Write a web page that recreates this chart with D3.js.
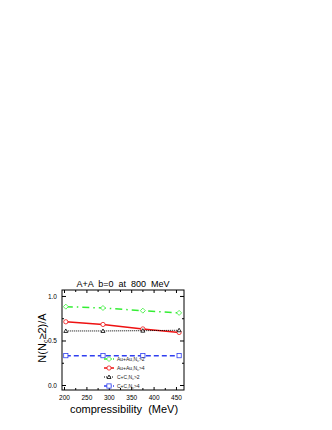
<!DOCTYPE html>
<html><head><meta charset="utf-8">
<script src="https://cdn.jsdelivr.net/npm/d3@7"></script>
<style>body{margin:0;background:#fff}svg{display:block}text{font-family:"Liberation Sans",Arial,sans-serif}</style>
</head><body>
<script>
const compress = [204, 287, 376, 457];
const auau2 = [0.88, 0.865, 0.835, 0.81];
const auau4 = [0.71, 0.68, 0.63, 0.59];
const cc2 = [0.607, 0.607, 0.61, 0.615];
const cc4 = [0.33, 0.33, 0.33, 0.33];
const seriesNames = ["Au+Au,N", "Au+Au,N", "C+C,N", "C+C,N"];
const seriesThr = [">2", ">4", ">2", ">4"];
const xTicks = [200, 250, 300, 350, 400, 450];
const yTicks = [0.0, 0.5, 1.0];

const W = 332, H = 430;
const svg = d3.select("body").append("svg").attr("width", W).attr("height", H);
const L = 62, R = 184, T = 290, B = 390;
const x = d3.scaleLinear().domain([195.5, 467.9]).range([L, R]);
const y = d3.scaleLinear().domain([-0.056, 1.067]).range([B, T]);

const series = [
  {v: auau2, color: "#33ee33", dash: "7,4,1.5,4", marker: "diamond"},
  {v: auau4, color: "#ee1111", dash: null, marker: "circle"},
  {v: cc2, color: "#000000", dash: "1,1", marker: "triangle"},
  {v: cc4, color: "#2f3ff0", dash: "5,3", marker: "square"}
];

svg.append("rect").attr("x", L).attr("y", T).attr("width", R - L).attr("height", B - T)
  .attr("fill", "none").attr("stroke", "#000").attr("stroke-width", 1);

const gb = svg.append("g").attr("transform", `translate(0,${B})`)
  .call(d3.axisBottom(x).tickValues(xTicks).tickSize(-3).tickPadding(5).tickFormat(d3.format("d")));
const gt = svg.append("g").attr("transform", `translate(0,${T})`)
  .call(d3.axisTop(x).tickValues(xTicks).tickSize(-3).tickFormat(""));
const gl = svg.append("g").attr("transform", `translate(${L},0)`)
  .call(d3.axisLeft(y).tickValues(yTicks).tickSize(-4).tickPadding(5).tickFormat(d3.format(".1f")));
const gr = svg.append("g").attr("transform", `translate(${R},0)`)
  .call(d3.axisRight(y).tickValues(yTicks).tickSize(-4).tickFormat(""));
const gml = svg.append("g").attr("transform", `translate(${L},0)`)
  .call(d3.axisLeft(y).tickValues([0.25, 0.75]).tickSize(-2).tickFormat(""));
const gmr = svg.append("g").attr("transform", `translate(${R},0)`)
  .call(d3.axisRight(y).tickValues([0.25, 0.75]).tickSize(-2).tickFormat(""));
const gmt = svg.append("g").attr("transform", `translate(0,${T})`)
  .call(d3.axisTop(x).tickValues([225, 275, 325, 375, 425]).tickSize(-2).tickFormat(""));
const gmb = svg.append("g").attr("transform", `translate(0,${B})`)
  .call(d3.axisBottom(x).tickValues([225, 275, 325, 375, 425]).tickSize(-2).tickFormat(""));
[gb, gt, gl, gr, gml, gmr, gmt, gmb].forEach(g => {
  g.select(".domain").remove();
  g.selectAll("text").attr("font-size", 6.5).attr("fill", "#000");
  g.selectAll("line").attr("stroke", "#000");
});

const line = d3.line().x((d, i) => x(compress[i])).y(d => y(d));
function drawMarker(g, type, cx, cy, s) {
  if (type === "circle") g.append("circle").attr("cx", cx).attr("cy", cy).attr("r", s * 0.85);
  else if (type === "square") g.append("rect").attr("x", cx - s * 0.85).attr("y", cy - s * 0.85).attr("width", s * 1.7).attr("height", s * 1.7);
  else if (type === "diamond") g.append("path").attr("d", `M${cx},${cy - s}L${cx + s},${cy}L${cx},${cy + s}L${cx - s},${cy}Z`);
  else if (type === "triangle") g.append("path").attr("d", `M${cx},${cy - s * 0.8}L${cx + s * 0.8},${cy + s * 0.6}L${cx - s * 0.8},${cy + s * 0.6}Z`);
}
series.forEach(s => {
  svg.append("path").datum(s.v).attr("d", line).attr("fill", "none")
    .attr("stroke", s.color).attr("stroke-width", s.marker === "triangle" ? 1 : 1.5)
    .attr("stroke-dasharray", s.dash);
  const mg = svg.append("g").attr("fill", "#fff").attr("stroke", s.color).attr("stroke-width", 0.8);
  s.v.forEach((d, i) => drawMarker(mg, s.marker, x(compress[i]), y(d), 2.5));
});

const legY = [359, 368, 377, 386];
series.forEach((s, i) => {
  const g = svg.append("g");
  g.append("line").attr("x1", 104).attr("x2", 114).attr("y1", legY[i]).attr("y2", legY[i])
    .attr("stroke", s.color).attr("stroke-width", s.marker === "triangle" ? 1 : 1.5)
    .attr("stroke-dasharray", s.dash ? (s.dash === "1,1" ? "1,1" : "3,1.5") : null);
  const mg = g.append("g").attr("fill", "#fff").attr("stroke", s.color).attr("stroke-width", 0.8);
  drawMarker(mg, s.marker, 109, legY[i], 2.5);
  const t = g.append("text").attr("x", 117).attr("y", legY[i] + 2).attr("font-size", 5).attr("fill", "#222");
  t.append("tspan").text(seriesNames[i]);
  t.append("tspan").attr("font-size", 3.5).attr("dy", 1).text("c");
  t.append("tspan").attr("dy", -1).text(seriesThr[i]);
});

svg.append("text").attr("x", 123).attr("y", 287).attr("text-anchor", "middle")
  .attr("font-size", 9).attr("fill", "#000").attr("xml:space", "preserve").text("A+A  b=0  at  800  MeV");
svg.append("text").attr("x", 124).attr("y", 413).attr("text-anchor", "middle")
  .attr("font-size", 11).attr("fill", "#000").attr("xml:space", "preserve").text("compressibility  (MeV)");
const yl = svg.append("text").attr("transform", `translate(46,${(T + B) / 2 - 2}) rotate(-90)`)
  .attr("text-anchor", "middle").attr("font-size", 11).attr("fill", "#000");
yl.append("tspan").text("N(N");
yl.append("tspan").attr("font-size", 7).attr("dy", 2).text("c");
yl.append("tspan").attr("dy", -2).text("≥2)/A");
</script>
</body></html>
